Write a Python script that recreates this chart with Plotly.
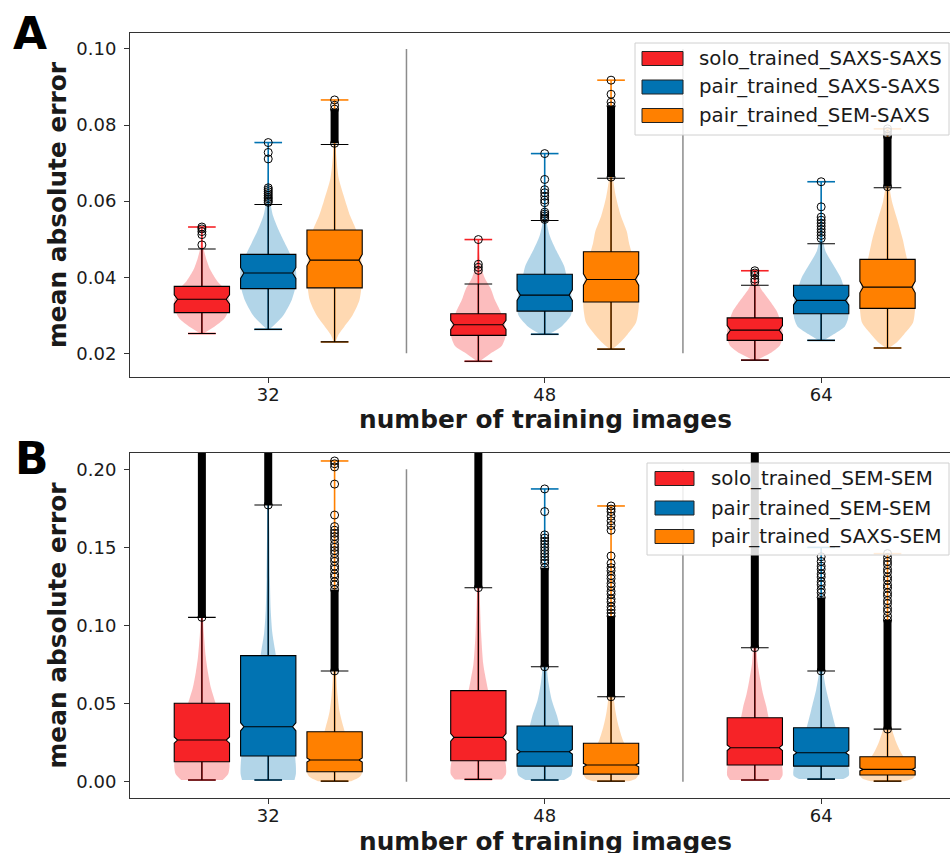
import plotly.graph_objects as go

W, H = 950, 853

GROUPS = ['32', '48', '64']
SERIES_A = ['solo_trained_SAXS-SAXS', 'pair_trained_SAXS-SAXS', 'pair_trained_SEM-SAXS']
SERIES_B = ['solo_trained_SEM-SEM', 'pair_trained_SEM-SEM', 'pair_trained_SAXS-SEM']
COLORS = ['#F62327', '#0173B2', '#FF8000']
FILLS = ['rgba(246,35,39,0.3)', 'rgba(1,115,178,0.3)', 'rgba(255,128,0,0.3)']
Y_TICKS_A = [0.02, 0.04, 0.06, 0.08, 0.10]
Y_TICKS_B = [0.00, 0.05, 0.10, 0.15, 0.20]

# ---------------- Panel A (rows: series, cols: 32/48/64) ----------------
A_Q1 = [[0.0307, 0.0247, 0.0234], [0.0370, 0.0311, 0.0304], [0.0372, 0.0335, 0.0318]]
A_MED = [[0.0342, 0.0275, 0.0261], [0.0411, 0.0353, 0.0339], [0.0445, 0.0394, 0.0374]]
A_Q3 = [[0.0376, 0.0304, 0.0293], [0.0460, 0.0408, 0.0379], [0.0524, 0.0467, 0.0447]]
A_LO = [[0.0252, 0.0179, 0.0182], [0.0263, 0.0250, 0.0234], [0.0230, 0.0211, 0.0214]]
A_HI = [[0.0474, 0.0382, 0.0379], [0.0591, 0.0549, 0.0488], [0.0749, 0.0660, 0.0635]]
A_NOTCH = [[0.0012, 0.0012, 0.0012], [0.0014, 0.0014, 0.0012], [0.0015, 0.0015, 0.0015]]

A_VY = [
    [[0.0252, 0.027, 0.029, 0.031, 0.034, 0.037, 0.039, 0.042, 0.045, 0.048, 0.0532],
     [0.0179, 0.020, 0.022, 0.025, 0.028, 0.031, 0.034, 0.037, 0.040, 0.044, 0.0499],
     [0.0182, 0.020, 0.022, 0.024, 0.026, 0.029, 0.031, 0.034, 0.037, 0.040, 0.0417]],
    [[0.0263, 0.028, 0.030, 0.034, 0.038, 0.042, 0.046, 0.049, 0.052, 0.056, 0.060, 0.065, 0.0754],
     [0.0250, 0.027, 0.030, 0.033, 0.036, 0.040, 0.043, 0.047, 0.051, 0.055, 0.060, 0.0725],
     [0.0234, 0.025, 0.027, 0.029, 0.032, 0.035, 0.038, 0.040, 0.0435, 0.047, 0.052, 0.0651]],
    [[0.0230, 0.025, 0.027, 0.030, 0.034, 0.040, 0.046, 0.052, 0.056, 0.060, 0.066, 0.072, 0.078, 0.0866],
     [0.0211, 0.023, 0.025, 0.028, 0.032, 0.036, 0.040, 0.045, 0.049, 0.052, 0.056, 0.061, 0.066, 0.075, 0.0918],
     [0.0214, 0.023, 0.025, 0.028, 0.032, 0.036, 0.040, 0.045, 0.050, 0.055, 0.060, 0.065, 0.0790]],
]
A_VW = [
    [[0.05, 0.45, 0.8, 0.95, 1.0, 0.8, 0.55, 0.3, 0.15, 0.05, 0.0],
     [0.05, 0.45, 0.85, 1.0, 0.95, 0.8, 0.6, 0.45, 0.22, 0.06, 0.0],
     [0.05, 0.55, 0.9, 1.0, 1.0, 0.9, 0.8, 0.52, 0.22, 0.04, 0.0]],
    [[0.05, 0.3, 0.55, 0.85, 1.0, 1.0, 0.8, 0.6, 0.4, 0.18, 0.07, 0.03, 0.0],
     [0.15, 0.6, 0.95, 1.0, 0.95, 0.8, 0.7, 0.42, 0.18, 0.06, 0.02, 0.0],
     [0.1, 0.45, 0.85, 0.97, 1.0, 0.95, 0.8, 0.7, 0.42, 0.15, 0.04, 0.0]],
    [[0.03, 0.15, 0.35, 0.65, 0.9, 1.0, 0.95, 0.8, 0.57, 0.39, 0.15, 0.06, 0.02, 0.0],
     [0.05, 0.35, 0.6, 0.9, 1.0, 1.0, 0.95, 0.8, 0.65, 0.57, 0.36, 0.18, 0.07, 0.02, 0.0],
     [0.05, 0.35, 0.6, 0.92, 1.0, 1.0, 0.9, 0.7, 0.55, 0.36, 0.16, 0.05, 0.0]],
]
A_OUT = [
    [[0.0485, 0.0512, 0.0520, 0.0527, 0.0532],
     [0.0418, 0.0426, 0.0434, 0.0499],
     [0.0388, 0.0395, 0.0405, 0.0411, 0.0417]],
    [[0.0597, 0.0601, 0.0606, 0.0610, 0.0615, 0.0620, 0.0625, 0.0630, 0.0635, 0.0711, 0.0728, 0.0754],
     [0.0552, 0.0556, 0.0561, 0.0566, 0.0571, 0.0596, 0.0603, 0.0613, 0.0622, 0.0630, 0.0657, 0.0725],
     [0.0502, 0.0510, 0.0518, 0.0526, 0.0534, 0.0542, 0.0550, 0.0558, 0.0585, 0.0651]],
    [[0.0852, 0.0866],
     [0.0860, 0.0881, 0.0918],
     [0.0775, 0.0783, 0.0790]],
]
# dense runs of overlapping outliers: [low, high] or None
A_DENSE = [
    [None, None, None],
    [None, None, None],
    [[0.0752, 0.0842], [0.0663, 0.0850], [0.0638, 0.0770]],
]

# ---------------- Panel B ----------------
B_Q1 = [[0.0128, 0.0134, 0.0107], [0.0165, 0.0100, 0.0100], [0.0064, 0.0049, 0.0043]]
B_MED = [[0.0267, 0.0284, 0.0218], [0.0352, 0.0192, 0.0186], [0.0139, 0.0107, 0.0079]]
B_Q3 = [[0.0502, 0.0583, 0.0410], [0.0807, 0.0357, 0.0346], [0.0320, 0.0246, 0.0160]]
B_LO = [[0.0011, 0.0015, 0.0011], [0.0011, 0.0011, 0.0017], [0.0004, 0.0004, 0.0004]]
B_HI = [[0.1052, 0.1242, 0.0858], [0.1771, 0.0736, 0.0709], [0.0709, 0.0544, 0.0337]]
B_NOTCH = [[0.0020, 0.0024, 0.0018], [0.0026, 0.0015, 0.0015], [0.0013, 0.0011, 0.0010]]

B_VY = [
    [[0.0011, 0.005, 0.010, 0.015, 0.020, 0.030, 0.040, 0.050, 0.060, 0.070, 0.080, 0.095, 0.11, 0.14, 0.25],
     [0.0015, 0.005, 0.010, 0.015, 0.025, 0.035, 0.045, 0.058, 0.065, 0.075, 0.095, 0.12, 0.15, 0.25],
     [0.0011, 0.004, 0.008, 0.013, 0.020, 0.030, 0.041, 0.048, 0.056, 0.065, 0.076, 0.09, 0.12, 0.16, 0.25]],
    [[0.0011, 0.005, 0.010, 0.020, 0.030, 0.040, 0.055, 0.070, 0.085, 0.095, 0.11, 0.13, 0.16, 0.18, 0.25],
     [0.0011, 0.004, 0.008, 0.012, 0.018, 0.025, 0.035, 0.042, 0.052, 0.063, 0.075, 0.10, 0.14, 0.1874],
     [0.0017, 0.004, 0.008, 0.013, 0.020, 0.028, 0.035, 0.046, 0.059, 0.071, 0.09, 0.12, 0.150]],
    [[0.0004, 0.003, 0.006, 0.010, 0.015, 0.020, 0.027, 0.035, 0.045, 0.055, 0.065, 0.08, 0.10, 0.14, 0.2053],
     [0.0004, 0.002, 0.005, 0.009, 0.014, 0.020, 0.027, 0.035, 0.045, 0.055, 0.07, 0.10, 0.1765],
     [0.0004, 0.002, 0.004, 0.007, 0.010, 0.014, 0.020, 0.026, 0.033, 0.040, 0.055, 0.08, 0.146]],
]
B_VW = [
    [[0.75, 0.95, 1.0, 0.98, 0.93, 0.8, 0.65, 0.5, 0.33, 0.22, 0.14, 0.07, 0.03, 0.01, 0.0],
     [0.85, 1.0, 1.0, 0.95, 0.82, 0.68, 0.52, 0.36, 0.28, 0.18, 0.1, 0.05, 0.02, 0.0],
     [0.9, 1.0, 1.0, 0.95, 0.85, 0.68, 0.5, 0.42, 0.3, 0.2, 0.1, 0.05, 0.02, 0.01, 0.0]],
    [[0.95, 1.0, 1.0, 0.95, 0.85, 0.72, 0.55, 0.38, 0.24, 0.15, 0.09, 0.06, 0.04, 0.02, 0.0],
     [0.7, 0.95, 1.0, 0.95, 0.85, 0.7, 0.55, 0.45, 0.26, 0.14, 0.07, 0.03, 0.01, 0.0],
     [0.8, 1.0, 1.0, 0.93, 0.8, 0.65, 0.52, 0.36, 0.18, 0.07, 0.03, 0.01, 0.0]],
    [[0.6, 0.9, 1.0, 0.95, 0.8, 0.62, 0.45, 0.32, 0.18, 0.11, 0.07, 0.04, 0.02, 0.01, 0.0],
     [0.65, 0.9, 1.0, 0.95, 0.8, 0.6, 0.42, 0.28, 0.16, 0.09, 0.04, 0.015, 0.0],
     [0.6, 0.9, 1.0, 0.95, 0.85, 0.65, 0.45, 0.3, 0.17, 0.09, 0.04, 0.01, 0.0]],
]
B_OUT = [
    [[], [], []],
    [[],
     [0.1874, 0.1729, 0.158, 0.156, 0.154, 0.152, 0.150, 0.148, 0.146, 0.144, 0.142, 0.140],
     [0.144, 0.141, 0.138, 0.136, 0.133, 0.131, 0.128, 0.126, 0.123, 0.121]],
    [[0.2053, 0.2035, 0.2015, 0.1905, 0.1707, 0.1633, 0.161, 0.159, 0.157, 0.155, 0.152, 0.150,
      0.148, 0.146, 0.143, 0.141, 0.138, 0.136, 0.133, 0.131, 0.128, 0.126],
     [0.1765, 0.1745, 0.1729, 0.170, 0.167, 0.164, 0.161, 0.1445, 0.1398, 0.137, 0.135, 0.132,
      0.130, 0.127, 0.125, 0.122, 0.120, 0.117, 0.115, 0.112, 0.110, 0.108],
     [0.146, 0.1435, 0.141, 0.139, 0.136, 0.134, 0.131, 0.129, 0.126, 0.124, 0.121, 0.119,
      0.116, 0.114, 0.111, 0.109, 0.106]],
]
B_DENSE = [
    [[0.1052, 0.25], [0.1242, 0.25], [0.0858, 0.25]],
    [[0.1771, 0.25], [0.0736, 0.137], [0.0709, 0.118]],
    [[0.0709, 0.123], [0.0544, 0.106], [0.0337, 0.1035]],
]

# ---------------- layout constants ----------------
GROUP_POS = [0, 1, 2]
SERIES_OFFSET = [-0.24, 0.0, 0.24]
BOX_W = 0.2
HALF_W = 0.1
CAP = 0.05
FONT = 'DejaVu Sans'
TXT = '#1a1a1a'


def px(x):
    return x / W


def py(y):
    return 1 - y / H


fig = go.Figure()


def add_panel(xa, ya, yov, q1, med, q3, lo, hi, notch, vys, vws, outs, dense):
    # violins + extrema bars on base axes
    for s in range(3):
        for g in range(3):
            c = GROUP_POS[g] + SERIES_OFFSET[s]
            vy, vw = vys[s][g], vws[s][g]
            rx = [c + HALF_W * w for w in vw]
            lx = [c - HALF_W * w for w in vw][::-1]
            ly = vy[::-1]
            if vw[-1] == 0:
                lx, ly = lx[1:], ly[1:]
            fig.add_trace(go.Scatter(
                x=rx + lx, y=vy + ly, mode='lines', fill='toself', fillcolor=FILLS[s],
                line=dict(width=0, shape='spline', smoothing=0.7),
                xaxis=xa, yaxis=ya, hoverinfo='skip', showlegend=False))
            fig.add_trace(go.Scatter(
                x=[c, c, None, c - CAP, c + CAP, None, c - CAP, c + CAP],
                y=[vy[0], vy[-1], None, vy[-1], vy[-1], None, vy[0], vy[0]],
                mode='lines', line=dict(color=COLORS[s], width=1.6),
                xaxis=xa, yaxis=ya, hoverinfo='skip', showlegend=False))
    # boxes on overlay axes
    for s in range(3):
        xs = [GROUP_POS[g] + SERIES_OFFSET[s] for g in range(3)]
        fig.add_trace(go.Box(
            x=xs, q1=q1[s], median=med[s], q3=q3[s], lowerfence=lo[s], upperfence=hi[s],
            notched=True, notchspan=notch[s], notchwidth=0.06, width=BOX_W, whiskerwidth=0.5,
            fillcolor=COLORS[s], line=dict(color='black', width=1.1), boxpoints=False,
            xaxis=xa, yaxis=yov, hoverinfo='skip', showlegend=False))
    # outliers on overlay axes
    for s in range(3):
        for g in range(3):
            c = GROUP_POS[g] + SERIES_OFFSET[s]
            d = dense[s][g]
            if d is not None:
                fig.add_trace(go.Scatter(
                    x=[c, c], y=d, mode='lines+markers',
                    line=dict(color='black', width=8),
                    marker=dict(symbol='circle-open', size=8, color='black', line=dict(width=1)),
                    xaxis=xa, yaxis=yov, hoverinfo='skip', showlegend=False))
            o = outs[s][g]
            if o:
                fig.add_trace(go.Scatter(
                    x=[c] * len(o), y=o, mode='markers',
                    marker=dict(symbol='circle-open', size=8, color='black', line=dict(width=1)),
                    xaxis=xa, yaxis=yov, hoverinfo='skip', showlegend=False))


add_panel('x', 'y', 'y3', A_Q1, A_MED, A_Q3, A_LO, A_HI, A_NOTCH, A_VY, A_VW, A_OUT, A_DENSE)
add_panel('x2', 'y2', 'y4', B_Q1, B_MED, B_Q3, B_LO, B_HI, B_NOTCH, B_VY, B_VW, B_OUT, B_DENSE)

X_RANGE = [-0.5, 2.466]
YA_RANGE = [0.01377, 0.1042]
YB_RANGE = [-0.0104, 0.2104]

axis_common = dict(showgrid=False, zeroline=False, showline=True, mirror=True,
                   linecolor='#333333', linewidth=1, ticks='outside', ticklen=5,
                   tickwidth=1, tickcolor='#333333',
                   tickfont=dict(family=FONT, size=18, color=TXT))

fig.update_layout(
    width=W, height=H, margin=dict(l=0, r=0, t=0, b=0),
    paper_bgcolor='white', plot_bgcolor='white', boxmode='overlay', showlegend=False,
    xaxis=dict(domain=[px(130), 1], range=X_RANGE, anchor='y', tickvals=GROUP_POS,
               ticktext=GROUPS, ticklabelstandoff=-4, **axis_common),
    yaxis=dict(domain=[py(377), py(33)], range=YA_RANGE, anchor='x', tickvals=Y_TICKS_A,
               tickformat='.2f', ticklabelstandoff=4, **axis_common),
    yaxis3=dict(overlaying='y', range=YA_RANGE, anchor='x', visible=False),
    xaxis2=dict(domain=[px(130), 1], range=X_RANGE, anchor='y2', tickvals=GROUP_POS,
                ticktext=GROUPS, ticklabelstandoff=-4, **axis_common),
    yaxis2=dict(domain=[py(798), py(453)], range=YB_RANGE, anchor='x2', tickvals=Y_TICKS_B,
                tickformat='.2f', ticklabelstandoff=4, **axis_common),
    yaxis4=dict(overlaying='y2', range=YB_RANGE, anchor='x2', visible=False),
)

shapes = []
# separators between groups
for xa, ya, ticks in [('x', 'y', Y_TICKS_A), ('x2', 'y2', Y_TICKS_B)]:
    for g in range(len(GROUP_POS) - 1):
        xm = (GROUP_POS[g] + GROUP_POS[g + 1]) / 2
        shapes.append(dict(type='line', xref=xa, yref=ya, x0=xm, x1=xm, y0=ticks[0], y1=ticks[-1],
                           line=dict(color='#8c8c8c', width=1.5), layer='below'))

annotations = []
# legends
for names, box, patch_x, text_x, rows in [
    (SERIES_A, (635, 43, 949, 135), (642, 683), 697, [58.5, 87, 115.5]),
    (SERIES_B, (647, 463, 949, 555), (655, 694), 709, [478.5, 508, 536.5]),
]:
    shapes.append(dict(type='rect', xref='paper', yref='paper', x0=px(box[0]), x1=px(box[2]),
                       y0=py(box[3]), y1=py(box[1]), fillcolor='rgba(255,255,255,0.85)',
                       line=dict(color='#d0d0d0', width=1), layer='above'))
    for i, name in enumerate(names):
        yc = rows[i]
        shapes.append(dict(type='rect', xref='paper', yref='paper', x0=px(patch_x[0]), x1=px(patch_x[1]),
                           y0=py(yc + 7), y1=py(yc - 7), fillcolor=COLORS[i],
                           line=dict(color='#222222', width=1), layer='above'))
        annotations.append(dict(x=px(text_x), y=py(yc), xref='paper', yref='paper', text=name,
                                showarrow=False, xanchor='left', yanchor='middle',
                                font=dict(family=FONT, size=19.8, color=TXT)))

# panel letters
annotations.append(dict(x=px(11), y=py(34), xref='paper', yref='paper', text='<b>A</b>', showarrow=False,
                        xanchor='left', yanchor='middle', font=dict(family=FONT, size=44, color='black')))
annotations.append(dict(x=px(13), y=py(459), xref='paper', yref='paper', text='<b>B</b>', showarrow=False,
                        xanchor='left', yanchor='middle', font=dict(family=FONT, size=44, color='black')))
# axis titles
for yc in [205, 625.5]:
    annotations.append(dict(x=px(57), y=py(yc), xref='paper', yref='paper', text='<b>mean absolute error</b>',
                            showarrow=False, textangle=-90, xanchor='center', yanchor='middle',
                            font=dict(family=FONT, size=24.8, color=TXT)))
for yc in [420, 841]:
    annotations.append(dict(x=px(545), y=py(yc), xref='paper', yref='paper',
                            text='<b>number of training images</b>', showarrow=False,
                            xanchor='center', yanchor='middle', font=dict(family=FONT, size=24.8, color=TXT)))

fig.update_layout(shapes=shapes, annotations=annotations)
fig.write_html('out.html', config={'displayModeBar': False},
               post_script="document.body.style.margin='0';document.body.style.overflow='hidden';")
